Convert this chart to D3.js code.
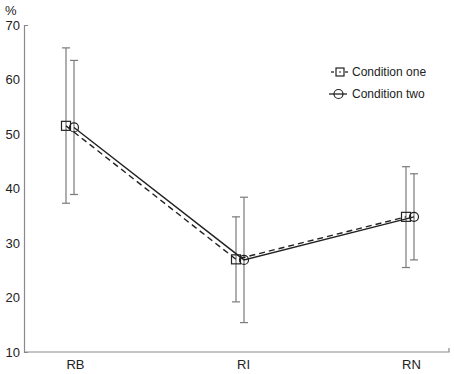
<!DOCTYPE html>
<html><head><meta charset="utf-8">
<script src="https://cdn.jsdelivr.net/npm/d3@7"></script>
<style>body{margin:0;background:#fff}svg{display:block}</style>
</head><body>
<script>
const categories = ["RB", "RI", "RN"];
const seriesNames = ["Condition one", "Condition two"];
const oneMean = [51.5, 27.0, 34.8];
const oneLow  = [37.3, 19.2, 25.5];
const oneHigh = [65.8, 34.8, 44.0];
const twoMean = [51.2, 26.9, 34.8];
const twoLow  = [38.9, 15.4, 26.9];
const twoHigh = [63.5, 38.4, 42.7];
const yTicks = [10, 20, 30, 40, 50, 60, 70];

const W = 454, H = 374;
const svg = d3.select("body").append("svg").attr("width", W).attr("height", H);
const font = "Liberation Sans, Arial, sans-serif";

const y = d3.scaleLinear().domain([10, 70]).range([352, 25]);
const x = d3.scalePoint().domain(categories).range([70, 410]);
const axisColor = "#8a8a8a";

// y axis
const ya = svg.append("g").attr("transform", "translate(24,0)")
  .call(d3.axisLeft(y).tickValues(yTicks).tickSizeInner(0).tickSizeOuter(-4).tickPadding(4));
ya.select(".domain").attr("stroke", axisColor).attr("stroke-width", 1.2);
ya.selectAll("text").attr("font-family", font).attr("font-size", 13).attr("fill", "#222");

// x axis
const xAxisScale = d3.scalePoint().domain(categories).range([75, 411]);
const xa = svg.append("g").attr("transform", "translate(0,352)")
  .call(d3.axisBottom(xAxisScale).tickSize(0).tickPadding(8));
xa.select(".domain").remove();
xa.selectAll("text").attr("font-family", font).attr("font-size", 13).attr("fill", "#222");
svg.append("path").attr("d", `M24,352H449V348`).attr("fill", "none").attr("stroke", axisColor).attr("stroke-width", 1.2);

svg.append("text").attr("x", 5).attr("y", 15).text("%")
  .attr("font-family", font).attr("font-size", 13).attr("fill", "#222");

const series = [
  {mean: oneMean, low: oneLow, high: oneHigh, off: -4, dash: "6,4", marker: "square"},
  {mean: twoMean, low: twoLow, high: twoHigh, off: 4, dash: null, marker: "circle"}
];

// error bars
series.forEach(s => {
  const g = svg.append("g").attr("stroke", "#7a7a7a").attr("stroke-width", 1.2);
  categories.forEach((c, i) => {
    const cx = x(c) + s.off;
    g.append("line").attr("x1", cx).attr("x2", cx).attr("y1", y(s.low[i])).attr("y2", y(s.high[i]));
    g.append("line").attr("x1", cx - 4).attr("x2", cx + 4).attr("y1", y(s.low[i])).attr("y2", y(s.low[i]));
    g.append("line").attr("x1", cx - 4).attr("x2", cx + 4).attr("y1", y(s.high[i])).attr("y2", y(s.high[i]));
  });
});

// lines and markers
series.forEach(s => {
  const line = d3.line().x((d, i) => x(categories[i]) + s.off).y(d => y(d));
  svg.append("path").datum(s.mean).attr("d", line).attr("fill", "none")
    .attr("stroke", "#222").attr("stroke-width", 1.4)
    .attr("stroke-dasharray", s.dash);
  categories.forEach((c, i) => {
    const cx = x(c) + s.off, cy = y(s.mean[i]);
    if (s.marker === "square") {
      svg.append("rect").attr("x", cx - 4.5).attr("y", cy - 4.5).attr("width", 9).attr("height", 9)
        .attr("fill", "none").attr("stroke", "#222").attr("stroke-width", 1.2);
    } else {
      svg.append("circle").attr("cx", cx).attr("cy", cy).attr("r", 4.5)
        .attr("fill", "none").attr("stroke", "#222").attr("stroke-width", 1.2);
    }
  });
});

// legend
const leg = svg.append("g");
[0, 1].forEach(k => {
  const ly = k === 0 ? 72 : 94;
  if (k === 0) {
    leg.append("line").attr("x1", 331).attr("x2", 334).attr("y1", ly).attr("y2", ly).attr("stroke", "#222").attr("stroke-width", 1.3);
    leg.append("line").attr("x1", 345).attr("x2", 348).attr("y1", ly).attr("y2", ly).attr("stroke", "#222").attr("stroke-width", 1.3);
    leg.append("rect").attr("x", 336).attr("y", ly - 4).attr("width", 8).attr("height", 8)
      .attr("fill", "none").attr("stroke", "#222").attr("stroke-width", 1.2);
    leg.append("line").attr("x1", 339).attr("x2", 341).attr("y1", ly).attr("y2", ly).attr("stroke", "#222").attr("stroke-width", 1.2);
  } else {
    leg.append("line").attr("x1", 329).attr("x2", 347).attr("y1", ly).attr("y2", ly).attr("stroke", "#222").attr("stroke-width", 1.3);
    leg.append("circle").attr("cx", 338.5).attr("cy", ly).attr("r", 4.5)
      .attr("fill", "none").attr("stroke", "#222").attr("stroke-width", 1.2);
  }
  leg.append("text").attr("x", 352).attr("y", ly + 4.3).text(seriesNames[k])
    .attr("font-family", font).attr("font-size", 12).attr("fill", "#222");
});
</script>
</body></html>
